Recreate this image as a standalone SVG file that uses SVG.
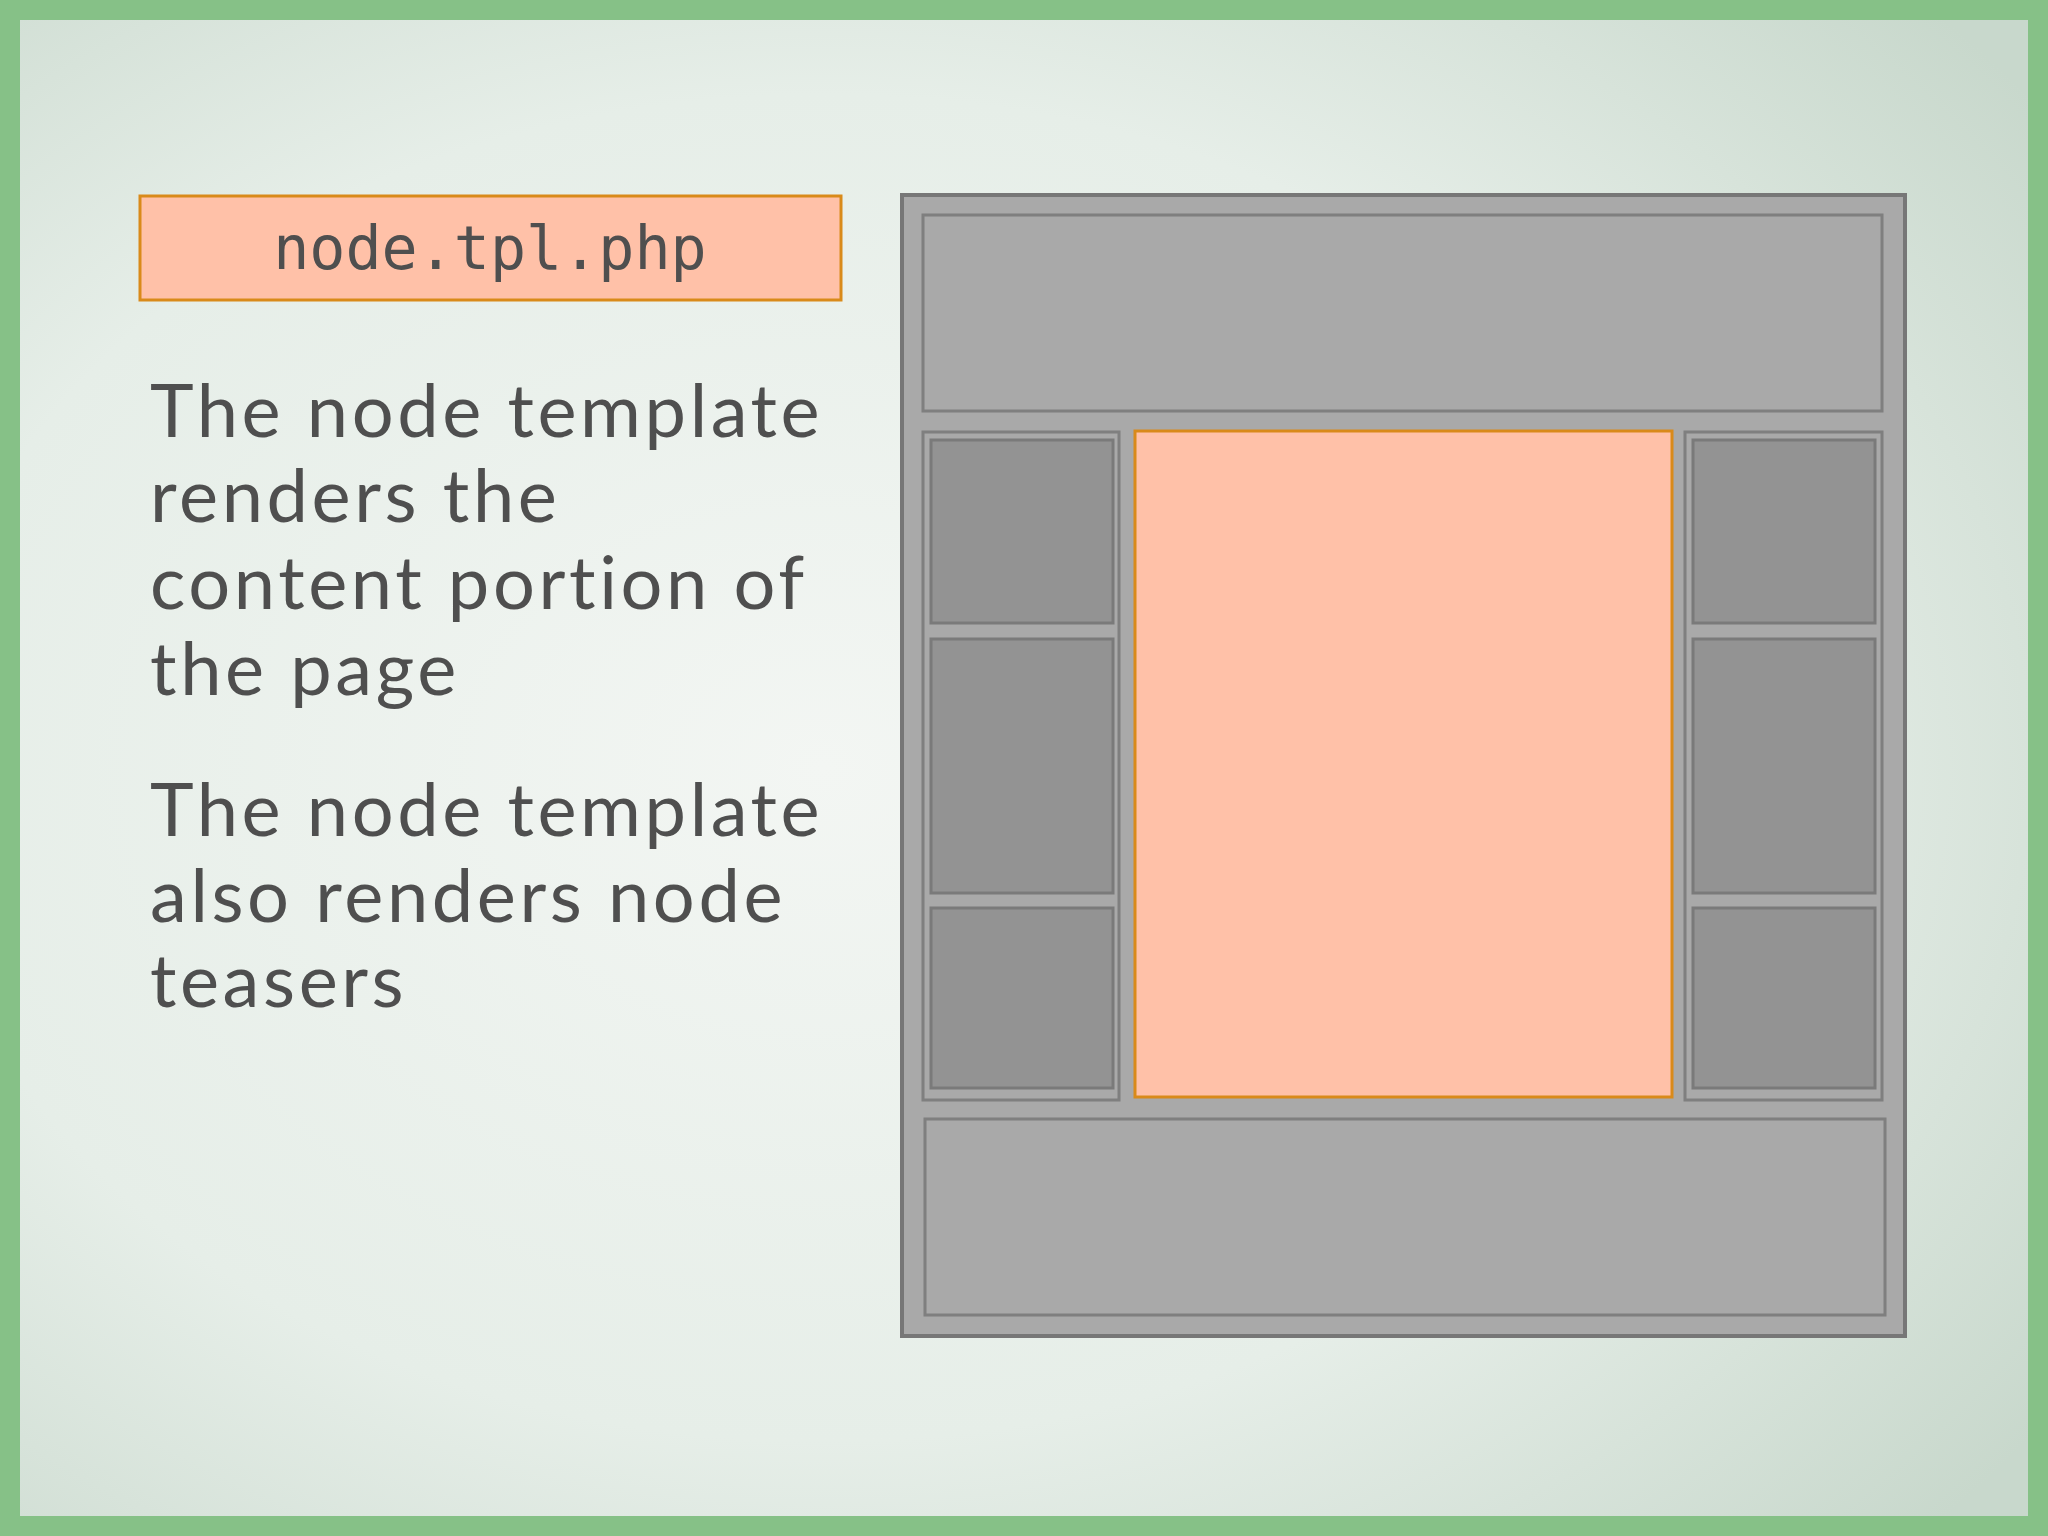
<svg xmlns="http://www.w3.org/2000/svg" width="2048" height="1536" viewBox="0 0 2048 1536">
<defs>
<radialGradient id="bg" cx="0.4" cy="0.5" r="0.75">
<stop offset="0" stop-color="#f3f6f3"/><stop offset="0.6" stop-color="#e6eee8"/><stop offset="1" stop-color="#c8d8cc"/>
</radialGradient>
<style>
.blk{fill:#939393;stroke:#7a7a7a;stroke-width:3}
.col{fill:#a9a9a9;stroke:#7f7f7f;stroke-width:3}
.txt{font-family:"Lato","Open Sans",sans-serif;font-size:74px;fill:#4f4f4f;letter-spacing:3.6px}
</style>
</defs>
<rect width="2048" height="1536" fill="#86c187"/>
<rect x="20" y="20" width="2008" height="1496" fill="url(#bg)"/>
<g id="label">
<rect x="140" y="196" width="701" height="104" fill="#ffc1a8" stroke="#d98a1a" stroke-width="3"/>
<text x="490" y="269" text-anchor="middle" font-family="DejaVu Sans Mono, monospace" font-size="60" fill="#4f4f4f">node.tpl.php</text>
</g>
<g id="desc1" class="txt">
<text x="150" y="437">The node template</text>
<text x="150" y="522">renders the</text>
<text x="150" y="609">content portion of</text>
<text x="150" y="695">the page</text>
</g>
<g id="desc2" class="txt">
<text x="150" y="836">The node template</text>
<text x="150" y="922">also renders node</text>
<text x="150" y="1007">teasers</text>
</g>
<g id="page">
<rect x="902" y="195" width="1003" height="1141" fill="#a9a9a9" stroke="#777" stroke-width="4"/>
<rect class="col" x="923" y="215" width="959" height="196"/>
<rect class="col" x="923" y="432" width="196" height="668"/>
<rect class="blk" x="931" y="440" width="182" height="183"/>
<rect class="blk" x="931" y="639" width="182" height="254"/>
<rect class="blk" x="931" y="908" width="182" height="180"/>
<rect class="col" x="1685" y="432" width="197" height="668"/>
<rect class="blk" x="1693" y="440" width="182" height="183"/>
<rect class="blk" x="1693" y="639" width="182" height="254"/>
<rect class="blk" x="1693" y="908" width="182" height="180"/>
<rect x="1135" y="431" width="537" height="666" fill="#ffc1a8" stroke="#d98a1a" stroke-width="3"/>
<rect class="col" x="925" y="1119" width="960" height="196"/>
</g>
</svg>
